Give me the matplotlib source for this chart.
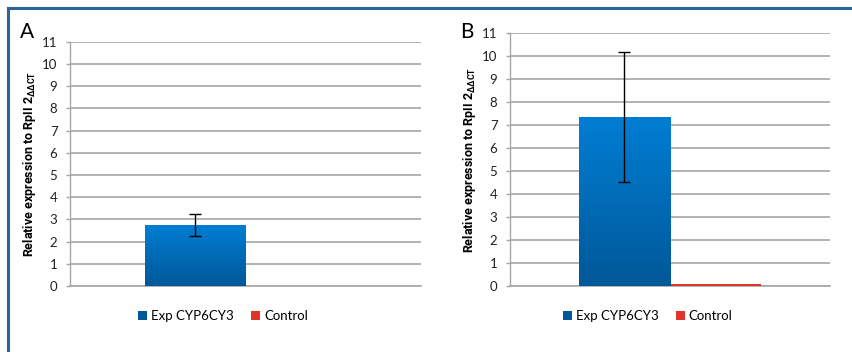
import numpy as np
import matplotlib
matplotlib.use("Agg")
import matplotlib.pyplot as plt
from matplotlib.lines import Line2D
from matplotlib.patches import Patch

plt.rcParams['font.family'] = ['Lato', 'DejaVu Sans']
plt.rcParams['mathtext.fontset'] = 'custom'
plt.rcParams['mathtext.bf'] = 'Roboto:bold'
plt.rcParams['mathtext.rm'] = 'Roboto'

series = ["Exp CYP6CY3", "Control"]
panel_labels = ["A", "B"]
values_A = [2.74, 0.01]
errors_A = [0.49, None]
values_B = [7.37, 0.1]
errors_B = [2.82, None]
yticks = list(range(0, 12))

blue_top = np.array([0x00, 0x7E, 0xD4]) / 255
blue_bot = np.array([0x00, 0x58, 0x98]) / 255
red_col = "#E0352B"
grid_col = "#A6A6A6"

fig = plt.figure(figsize=(8.52, 3.52), dpi=100)
W, H = 852, 352

def fx(px):
    return px / W

def fy(py):
    return 1 - py / H

axA = fig.add_axes([fx(70), fy(286), fx(421) - fx(70), fy(41.7) - fy(286)])
axB = fig.add_axes([fx(510), fy(286.3), fx(830) - fx(510), fy(33.3) - fy(286.3)])

ylabel = r'Relative expression to RpII 2$_{\mathbf{ΔΔCT}}$'

def draw(ax, vals, errs, letter, letter_pos, leg_pos, ylab_x):
    w = 0.285
    xs = [-w / 2, w / 2]
    bars_b = ax.bar([xs[0]], [vals[0]], width=w, color=blue_bot, zorder=5,
                    edgecolor='none')
    bars_r = ax.bar([xs[1]], [vals[1]], width=w, color=red_col, zorder=5,
                    edgecolor='none')
    # gradient fill for blue bar
    for p in bars_b.patches:
        x0, y0 = p.get_x(), p.get_y()
        bw, bh = p.get_width(), p.get_height()
        grad = np.linspace(0, 1, 256)[:, None]
        img = blue_top[None, None, :] * (1 - grad[..., None]) + blue_bot[None, None, :] * grad[..., None]
        img = np.repeat(img, 2, axis=1)
        im = ax.imshow(img, extent=[x0, x0 + bw, y0, y0 + bh], aspect='auto',
                       zorder=5.5, origin='upper', interpolation='bilinear')
        im.set_clip_path(p)
    ax.errorbar([xs[0]], [vals[0]], yerr=[errs[0]], fmt='none', ecolor='black',
                elinewidth=1.0, capsize=4, capthick=1.0, zorder=6)
    ax.set_xlim(-0.5, 0.5)
    ax.set_ylim(0, 11)
    ax.set_yticks(yticks)
    ax.set_yticklabels([str(t) for t in yticks], fontsize=9.5, color='#222222')
    ax.set_xticks([])
    ax.yaxis.grid(True, color=grid_col, linewidth=1.2, zorder=0)
    ax.set_axisbelow(True)
    for s in ['top', 'right']:
        ax.spines[s].set_visible(False)
    ax.spines['left'].set_color(grid_col)
    ax.spines['bottom'].set_color(grid_col)
    ax.spines['left'].set_linewidth(1.0)
    ax.spines['bottom'].set_linewidth(1.2)
    ax.spines['bottom'].set_zorder(1)
    ax.tick_params(axis='y', length=3, width=1.0, color=grid_col, pad=6)
    ax.set_ylabel(ylabel, fontsize=9.0, fontweight='bold', family='Roboto')
    ax.yaxis.set_label_coords(ylab_x, 0.5)
    fig.text(fx(letter_pos[0]), fy(letter_pos[1]), letter, fontsize=15,
             ha='left', va='baseline')
    handles = [Patch(facecolor=blue_bot, edgecolor='none'),
               Patch(facecolor=red_col, edgecolor='none')]
    ax.legend(handles, series, loc='center', bbox_to_anchor=leg_pos, ncol=2,
              frameon=False, fontsize=9.5, handlelength=0.7, handleheight=0.7,
              handletextpad=0.3, columnspacing=1.3)

draw(axA, values_A, errors_A, panel_labels[0], (20, 38), (0.435, -0.123),
     (38 - 70) / 351)
draw(axB, values_B, errors_B, panel_labels[1], (460, 38), (0.43, -0.117),
     (478 - 510) / 320)

frame_col = "#2B6499"
fig.add_artist(Line2D([fx(7.5), 1.0], [fy(8.3), fy(8.3)], color=frame_col,
                      linewidth=2.2, transform=fig.transFigure))
fig.add_artist(Line2D([fx(7.5), fx(7.5)], [fy(8.3), 0.0], color=frame_col,
                      linewidth=2.2, transform=fig.transFigure))

fig.savefig("out.png", dpi=100)
